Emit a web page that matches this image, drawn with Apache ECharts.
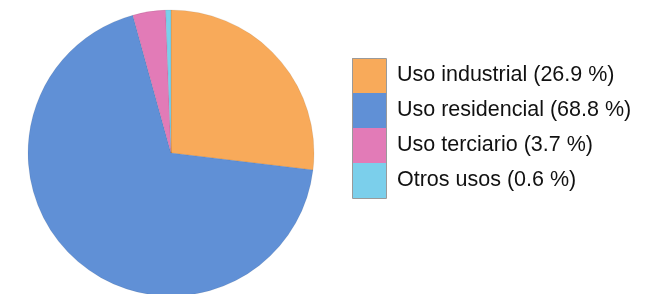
<!DOCTYPE html>
<html>
<head>
<meta charset="utf-8">
<script src="https://cdn.jsdelivr.net/npm/echarts@6/dist/echarts.min.js"></script>
<style>
  html, body { margin: 0; padding: 0; background: #fff; }
  #chart { width: 657px; height: 294px; }
</style>
</head>
<body>
<div id="chart"></div>
<script>
// datos
const categories = ['Uso industrial', 'Uso residencial', 'Uso terciario', 'Otros usos'];
const shares = [26.9, 68.8, 3.7, 0.6];
const colors = ['#f8aa5a', '#6090d6', '#e27bb7', '#7bcfeb'];

const chart = echarts.init(document.getElementById('chart'));
const option = {
  backgroundColor: '#fff',
  animation: false,
  color: colors,
  legend: {
    orient: 'vertical',
    left: 352,
    top: 58,
    padding: 0,
    itemGap: 0,
    itemWidth: 34,
    itemHeight: 35,
    icon: 'rect',
    selectedMode: false,
    itemStyle: { borderWidth: 0 },
    data: categories,
    formatter: (name) => {
      const i = categories.indexOf(name);
      return name + ' (' + shares[i].toFixed(1) + ' %)';
    },
    textStyle: {
      fontFamily: 'Liberation Sans, Arial, sans-serif',
      fontSize: 21.5,
      color: '#111',
      padding: [0, 0, 0, 6],
    },
  },
  graphic: [
    {
      type: 'rect',
      shape: { x: 352.5, y: 58.5, width: 34, height: 140 },
      style: { fill: 'none', stroke: '#9a9a9a', lineWidth: 1 },
      z: 100,
    },
  ],
  series: [
    {
      type: 'pie',
      center: [171, 153],
      radius: [0, 143],
      startAngle: 90,
      clockwise: true,
      label: { show: false },
      labelLine: { show: false },
      itemStyle: { borderColor: 'rgba(0,0,0,0.12)', borderWidth: 0.6 },
      data: categories.map((c, i) => ({ name: c, value: shares[i] })),
    },
  ],
};
chart.setOption(option);
</script>
</body>
</html>
